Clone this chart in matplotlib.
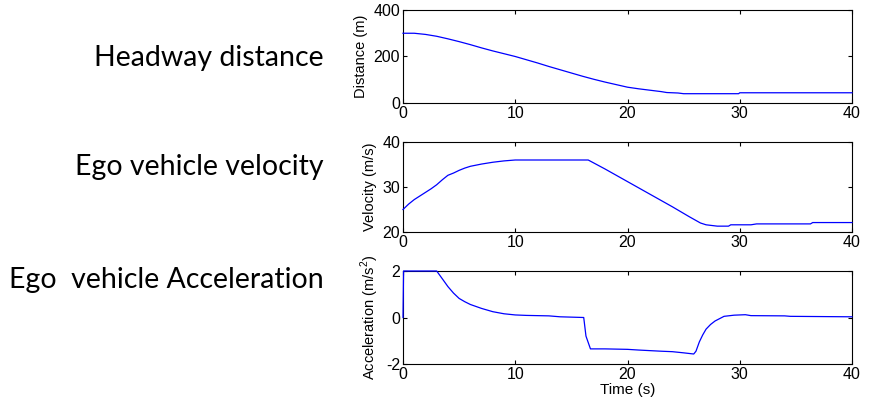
import matplotlib
matplotlib.use("Agg")
import matplotlib.pyplot as plt

# Headway distance (m)
t_dist = [0, 1, 2, 3, 4, 5, 6, 7, 8, 9, 10, 11, 12, 13, 14, 15, 16, 17, 18, 19, 20, 21, 22, 23, 23.5, 24.5, 25, 29.9, 30, 40]
dist = [300, 300, 295, 287, 276, 264, 251, 237, 224, 212, 200, 186, 172, 157, 143, 129, 115, 102, 90, 79, 68, 61, 55, 49, 45, 43, 40, 40, 44, 44]

# Ego vehicle velocity (m/s)
t_vel = [0, 0.5, 1, 1.5, 2, 2.5, 3, 3.5, 4, 4.5, 5, 5.5, 6, 7, 8, 9, 10, 12, 14, 16.5, 18, 20, 22, 24, 25.5, 26.5, 27, 28, 29, 29.2, 31, 31.5, 36.3, 36.5, 40]
vel = [25, 26.2, 27.2, 28, 28.8, 29.6, 30.5, 31.6, 32.6, 33.1, 33.7, 34.2, 34.6, 35.1, 35.5, 35.8, 36, 36, 36, 36, 34, 31.2, 28.4, 25.6, 23.4, 22, 21.6, 21.3, 21.3, 21.6, 21.6, 21.8, 21.8, 22.1, 22.1]

# Ego vehicle acceleration (m/s^2)
t_acc = [0, 0.05, 3, 3.3, 3.6, 4, 4.5, 5, 5.5, 6, 7, 8, 9, 10, 11, 13, 14, 16.1, 16.3, 16.7, 18, 20, 21, 23, 24, 25, 25.9, 26.1, 26.4, 26.7, 27, 27.4, 27.8, 28.2, 28.6, 29.5, 30.5, 31, 34, 34.5, 40]
acc = [0.0, 2.0, 2.0, 1.8, 1.6, 1.33, 1.05, 0.82, 0.68, 0.56, 0.39, 0.25, 0.16, 0.11, 0.09, 0.07, 0.03, 0.0, -0.8, -1.35, -1.35, -1.37, -1.4, -1.45, -1.47, -1.52, -1.57, -1.45, -1.05, -0.75, -0.5, -0.3, -0.15, -0.05, 0.05, 0.1, 0.12, 0.08, 0.07, 0.05, 0.03]

x_ticks = [0, 10, 20, 30, 40]
side_titles = ["Headway distance", "Ego vehicle velocity", "Ego  vehicle Acceleration"]
ylabels = ["Distance (m)", "Velocity (m/s)", r"Acceleration (m/s$^2$)"]

W, H = 874, 411
fig = plt.figure(figsize=(W / 100, H / 100), dpi=100)
plt.rcParams['font.family'] = ['Liberation Sans', 'DejaVu Sans']
plt.rcParams['mathtext.fontset'] = 'custom'
plt.rcParams['mathtext.rm'] = 'Liberation Sans'
plt.rcParams['axes.unicode_minus'] = False

def ax_at(l, t, r, b):
    return fig.add_axes([l / W, 1 - b / H, (r - l) / W, (b - t) / H])

axes = [ax_at(403, 10, 852, 103), ax_at(403, 142, 852, 232), ax_at(403, 271, 852, 364)]
data = [(t_dist, dist), (t_vel, vel), (t_acc, acc)]
ylims = [(0, 400), (20, 40), (-2, 2)]
yticks = [[0, 200, 400], [20, 30, 40], [-2, 0, 2]]

for ax, (tx, ty), yl, yt, lab in zip(axes, data, ylims, yticks, ylabels):
    ax.plot(tx, ty, color='#0000ff', linewidth=0.9, clip_on=False, zorder=3)
    ax.set_xlim(0, 40)
    ax.set_ylim(*yl)
    ax.set_xticks(x_ticks)
    ax.set_yticks(yt)
    ax.tick_params(direction='in', top=True, right=True, length=3, width=0.8,
                   labelsize=11.5, pad=2, colors='black')
    for s in ax.spines.values():
        s.set_linewidth(0.8)
    ax.set_ylabel(lab, fontsize=10.5, labelpad=4)

axes[2].set_xlabel("Time (s)", fontsize=11, labelpad=1)

title_y = [58, 167, 280]
for txt, y in zip(side_titles, title_y):
    fig.text(324 / W, 1 - y / H, txt, ha='right', va='center', fontsize=20.5,
             family=['Lato', 'DejaVu Sans'])

fig.savefig("out.png", dpi=100)
